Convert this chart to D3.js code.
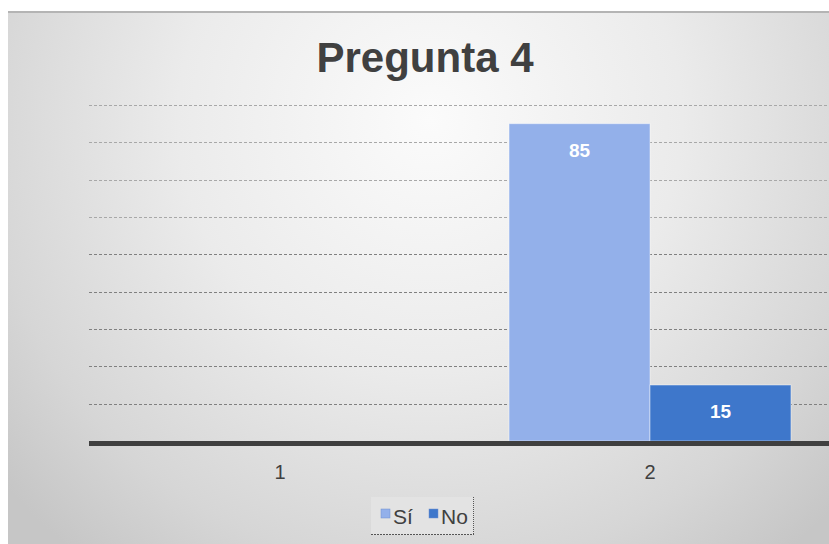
<!DOCTYPE html>
<html>
<head>
<meta charset="utf-8">
<script src="https://cdn.jsdelivr.net/npm/d3@7"></script>
<style>
  html, body { margin: 0; padding: 0; background: #ffffff; }
  svg { display: block; }
</style>
</head>
<body>
<svg id="chart" width="829" height="544"></svg>
<script>
const title = "Pregunta 4";
const categories = ["1", "2"];
const seriesNames = ["Sí", "No"];
const siValues = [0, 85];
const noValues = [0, 15];
const gridTicks = [10, 20, 30, 40, 50, 60, 70, 80, 90];

const W = 829, H = 544;
const svg = d3.select("#chart");
const defs = svg.append("defs");

const grad = defs.append("radialGradient")
  .attr("id", "bg").attr("gradientUnits", "userSpaceOnUse")
  .attr("cx", 430).attr("cy", 120).attr("r", 560);
grad.append("stop").attr("offset", 0).attr("stop-color", "#fbfbfb");
grad.append("stop").attr("offset", 0.45).attr("stop-color", "#ebebeb");
grad.append("stop").attr("offset", 0.8).attr("stop-color", "#d6d6d6");
grad.append("stop").attr("offset", 1).attr("stop-color", "#c6c6c6");

svg.append("rect").attr("x", 8).attr("y", 11).attr("width", W - 8).attr("height", H - 11)
  .attr("fill", "url(#bg)");
svg.append("line").attr("x1", 8).attr("x2", W).attr("y1", 12).attr("y2", 12)
  .attr("stroke", "#b4b4b4").attr("stroke-width", 2);

const x = d3.scaleBand().domain(categories).range([95, 835]).paddingInner(0.238).paddingOuter(0.119);
const xs = d3.scaleBand().domain(seriesNames).range([0, x.bandwidth()]).padding(0);
const y = d3.scaleLinear().domain([0, 90]).range([441, 105]);
const color = d3.scaleOrdinal().domain(seriesNames).range(["#93b0ea", "#3e77cb"]);

svg.append("text").attr("x", 425).attr("y", 72).attr("text-anchor", "middle")
  .attr("font-family", "Liberation Sans, Arial, sans-serif").attr("font-weight", "bold")
  .attr("font-size", 42).attr("fill", "#404040").text(title);

svg.append("g").selectAll("line").data(gridTicks).join("line")
  .attr("x1", 89).attr("x2", W)
  .attr("y1", d => Math.round(y(d)) + 0.5).attr("y2", d => Math.round(y(d)) + 0.5)
  .attr("stroke", d => d >= 60 ? "#a8a8a8" : "#808080").attr("stroke-width", 1).attr("stroke-dasharray", "3,2");

const rows = categories.map((c, i) => ({ cat: c, vals: [siValues[i], noValues[i]] }));
const groups = svg.append("g").selectAll("g").data(rows).join("g")
  .attr("transform", d => `translate(${x(d.cat)},0)`);
const cells = groups.selectAll("g").data(d => seriesNames.map((s, j) => ({ s, v: d.vals[j] })).filter(e => e.v > 0))
  .join("g");
cells.append("rect")
  .attr("x", d => xs(d.s)).attr("width", xs.bandwidth())
  .attr("y", d => y(d.v)).attr("height", d => y(0) - y(d.v))
  .attr("fill", d => color(d.s))
  .attr("stroke", "rgba(255,255,255,0.45)").attr("stroke-width", 1);
cells.append("text")
  .attr("x", d => xs(d.s) + xs.bandwidth() / 2)
  .attr("y", d => y(d.v) + 33)
  .attr("text-anchor", "middle")
  .attr("font-family", "Liberation Sans, Arial, sans-serif").attr("font-weight", "bold")
  .attr("font-size", 19).attr("fill", "#ffffff").text(d => d.v);

svg.append("rect").attr("x", 89).attr("y", y(0)).attr("width", W - 89).attr("height", 5)
  .attr("fill", "#3f3f3f");

const xAxis = d3.axisBottom(x).tickSize(0).tickPadding(0);
const gx = svg.append("g").attr("transform", "translate(0,463)").call(xAxis);
gx.select(".domain").remove();
gx.selectAll("text").attr("font-family", "Liberation Sans, Arial, sans-serif")
  .attr("font-size", 20).attr("fill", "#404040").attr("dy", "0.78em");

const lg = svg.append("g");
lg.append("rect").attr("x", 371).attr("y", 497).attr("width", 103).attr("height", 38)
  .attr("fill", "#e3e3e3");
lg.append("line").attr("x1", 473.5).attr("x2", 473.5).attr("y1", 497).attr("y2", 535)
  .attr("stroke", "#555").attr("stroke-dasharray", "1,1");
lg.append("line").attr("x1", 371).attr("x2", 474).attr("y1", 534.5).attr("y2", 534.5)
  .attr("stroke", "#555").attr("stroke-dasharray", "2,1");
const legendX = [381, 429];
const items = lg.selectAll("g.item").data(seriesNames).join("g").attr("class", "item")
  .attr("transform", (d, i) => `translate(${legendX[i]},0)`);
items.append("rect").attr("x", 0).attr("y", 509).attr("width", 9).attr("height", 9)
  .attr("fill", d => color(d)).attr("stroke", "#6f8fcf").attr("stroke-width", 0.5);
items.append("text").attr("x", 12).attr("y", 524)
  .attr("font-family", "Liberation Sans, Arial, sans-serif").attr("font-size", 21)
  .attr("fill", "#404040").text(d => d);
</script>
</body>
</html>
